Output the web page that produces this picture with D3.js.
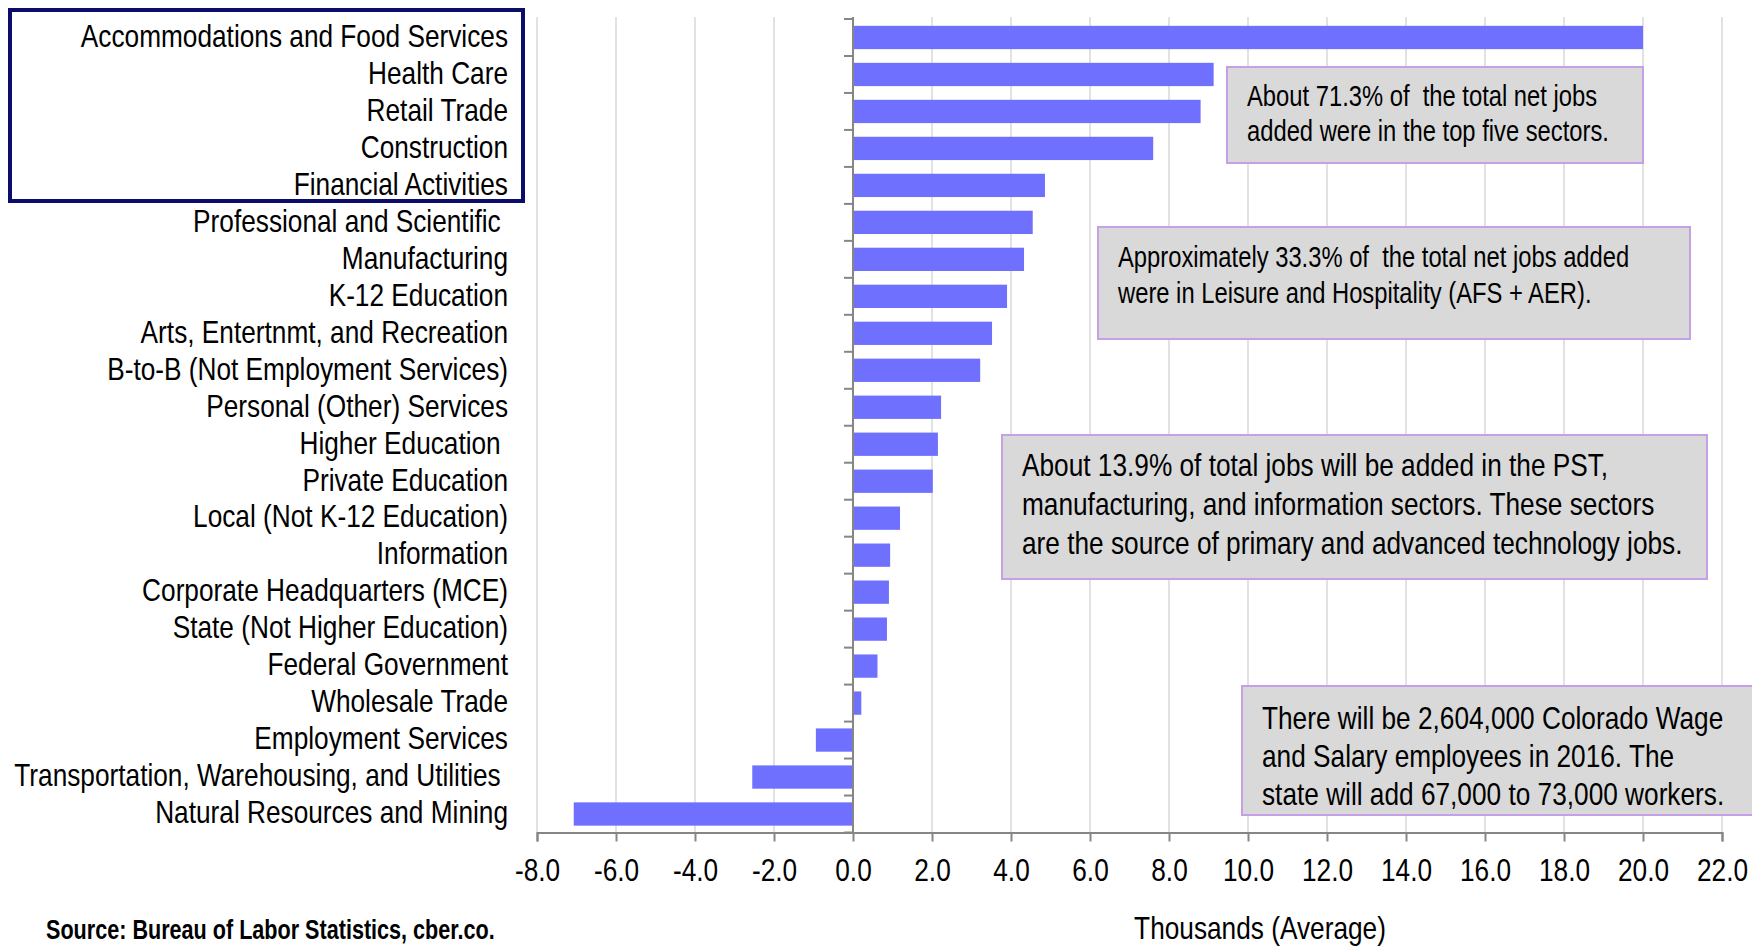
<!DOCTYPE html>
<html>
<head>
<meta charset="utf-8">
<script src="https://cdn.jsdelivr.net/npm/d3@7"></script>
<style>
  body { margin: 0; background: #fff; }
  svg text { font-family: "Liberation Sans", Arial, sans-serif; fill: #000; white-space: pre; }
</style>
</head>
<body>
<div id="chart"></div>
<script>
// sectors, top to bottom (trailing spaces are in the original labels)
let sectors = [
  "Accommodations and Food Services",
  "Health Care",
  "Retail Trade",
  "Construction",
  "Financial Activities",
  "Professional and Scientific ",
  "Manufacturing",
  "K-12 Education",
  "Arts, Entertnmt, and Recreation",
  "B-to-B (Not Employment Services)",
  "Personal (Other) Services",
  "Higher Education ",
  "Private Education",
  "Local (Not K-12 Education)",
  "Information",
  "Corporate Headquarters (MCE)",
  "State (Not Higher Education)",
  "Federal Government",
  "Wholesale Trade",
  "Employment Services",
  "Transportation, Warehousing, and Utilities ",
  "Natural Resources and Mining"
];
// net jobs added, thousands (average)
let jobs = [20.0, 9.13, 8.8, 7.6, 4.86, 4.55, 4.33, 3.9, 3.52, 3.22, 2.23, 2.15, 2.02, 1.19, 0.94, 0.91, 0.86, 0.62, 0.21, -0.94, -2.55, -7.07];
let x_ticks = d3.range(-8, 22.1, 2);

let notes = [
  ["About 71.3% of  the total net jobs", "added were in the top five sectors."],
  ["Approximately 33.3% of  the total net jobs added", "were in Leisure and Hospitality (AFS + AER)."],
  ["About 13.9% of total jobs will be added in the PST,", "manufacturing, and information sectors. These sectors", "are the source of primary and advanced technology jobs."],
  ["There will be 2,604,000 Colorado Wage", "and Salary employees in 2016. The", "state will add 67,000 to 73,000 workers."]
];
// box layout for each note: x, y, w, h, first line offset, line step, font size
let note_boxes = [
  [1227, 67, 416, 96, 29, 35, 29],
  [1098, 227, 592, 112, 30, 36, 29],
  [1002, 435, 705, 144, 30, 39, 32],
  [1242, 686, 512, 129, 32, 38, 32]
];

let chart_width = 1752, chart_height = 946;
let plot_left = 537, plot_right = 1722, plot_top = 19, plot_bottom = 832.5;
let font_size = 32, narrow = 0.82; // Arial Narrow look

let svg = d3.select("#chart").append("svg")
  .attr("width", chart_width)
  .attr("height", chart_height);

let x_scale = d3.scaleLinear().domain([-8, 22]).range([plot_left, plot_right]);
let y_scale = d3.scaleBand()
  .domain(sectors)
  .range([plot_top, plot_bottom])
  .paddingInner(0.37)
  .paddingOuter(0.185);

// vertical gridlines
svg.append("g")
  .selectAll("line")
  .data(x_ticks)
  .enter()
  .append("line")
  .attr("x1", d => x_scale(d))
  .attr("x2", d => x_scale(d))
  .attr("y1", plot_top - 2)
  .attr("y2", plot_bottom)
  .attr("stroke", "#d9d9d9")
  .attr("stroke-width", 1.5);

// bars
svg.append("g")
  .selectAll("rect")
  .data(jobs)
  .enter()
  .append("rect")
  .attr("x", d => x_scale(Math.min(0, d)))
  .attr("y", (d, i) => y_scale(sectors[i]))
  .attr("width", d => Math.abs(x_scale(d) - x_scale(0)))
  .attr("height", y_scale.bandwidth())
  .attr("fill", "#7070ff");

// category axis at zero
let y_axis = svg.append("g").attr("class", "yaxis");
y_axis.append("line")
  .attr("x1", x_scale(0)).attr("x2", x_scale(0))
  .attr("y1", plot_top - 2).attr("y2", plot_bottom)
  .attr("stroke", "#868686").attr("stroke-width", 2);
y_axis.selectAll("line.tick")
  .data(d3.range(sectors.length + 1))
  .enter()
  .append("line")
  .attr("class", "tick")
  .attr("x1", x_scale(0) - 9).attr("x2", x_scale(0))
  .attr("y1", i => plot_top + i * y_scale.step())
  .attr("y2", i => plot_top + i * y_scale.step())
  .attr("stroke", "#868686").attr("stroke-width", 2);

// category labels
svg.append("g")
  .selectAll("text")
  .data(sectors)
  .enter()
  .append("text")
  .attr("transform", d => "translate(508," + (y_scale(d) + y_scale.bandwidth() / 2) + ") scale(" + narrow + ",1)")
  .attr("dy", "0.29em")
  .attr("text-anchor", "end")
  .attr("font-size", font_size)
  .text(d => d);

// value axis
let x_axis = svg.append("g")
  .attr("transform", "translate(0," + plot_bottom + ")")
  .call(d3.axisBottom(x_scale)
    .tickValues(x_ticks)
    .tickFormat(d => d.toFixed(1))
    .tickSize(9)
    .tickPadding(17));
x_axis.select(".domain").attr("stroke", "#868686").attr("stroke-width", 2);
x_axis.selectAll(".tick line").attr("stroke", "#868686").attr("stroke-width", 2);
x_axis.selectAll(".tick text")
  .attr("font-size", font_size)
  .attr("font-family", null)
  .attr("transform", "scale(" + narrow + ",1)")
  .attr("fill", "#000");

// top five highlight
svg.append("rect")
  .attr("x", 10).attr("y", 10)
  .attr("width", 513).attr("height", 191)
  .attr("fill", "none")
  .attr("stroke", "#0c0c6b")
  .attr("stroke-width", 4);

// notes
let note_g = svg.append("g")
  .selectAll("g")
  .data(notes)
  .enter()
  .append("g")
  .attr("transform", (d, i) => "translate(" + note_boxes[i][0] + "," + note_boxes[i][1] + ")");
note_g.append("rect")
  .attr("width", (d, i) => note_boxes[i][2])
  .attr("height", (d, i) => note_boxes[i][3])
  .attr("fill", "#d9d9d9")
  .attr("stroke", "#c4a0e6")
  .attr("stroke-width", 2);
note_g.each(function (lines, k) {
  let b = note_boxes[k];
  d3.select(this).selectAll("text")
    .data(lines)
    .enter()
    .append("text")
    .attr("transform", (d, i) => "translate(20," + (b[4] + i * b[5]) + ") scale(" + narrow + ",1)")
    .attr("dy", "0.34em")
    .attr("font-size", b[6])
    .text(d => d);
});

// axis title and source
svg.append("text")
  .attr("transform", "translate(1260,939) scale(" + narrow + ",1)")
  .attr("text-anchor", "middle")
  .attr("font-size", font_size)
  .text("Thousands (Average)");
svg.append("text")
  .attr("transform", "translate(46,939) scale(0.8,1)")
  .attr("font-size", 27)
  .attr("font-weight", "bold")
  .text("Source: Bureau of Labor Statistics, cber.co.");
</script>
</body>
</html>
